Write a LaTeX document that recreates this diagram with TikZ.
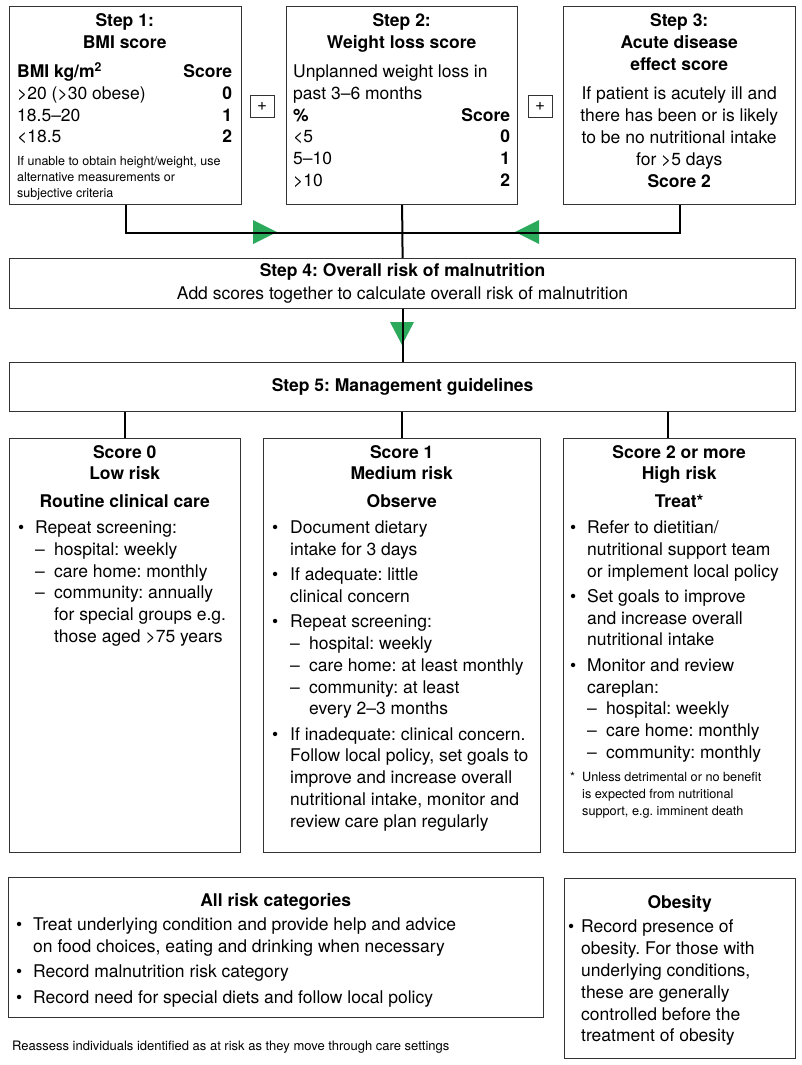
\documentclass[tikz,border=0pt]{standalone}
\usepackage{fontspec}
\setmainfont{TeX Gyre Heros}
\frenchspacing

\definecolor{vertfleche}{RGB}{42,170,90}

\newlength\bulw
\setlength\bulw{17pt}
\newcommand\boxhead[1]{\centerline{\bfseries #1}}
\newcommand\scorerow[2]{\noindent #1\hfill #2\par}
\newcommand\bitem[1]{\hangindent=\bulw\hangafter=1\noindent\makebox[\bulw][l]{\textbullet}#1\par}
\newcommand\ditem[1]{\hangindent=\dimexpr\bulw+19pt\relax\hangafter=1\noindent\hspace*{\bulw}\makebox[19pt][l]{--}#1\par}
\newcommand\bgap{\vspace{3.5pt}}

\begin{document}
\begin{tikzpicture}[x=1pt, y=1pt,
  cadre/.style={draw=black!80, line width=1.2pt, anchor=north west, inner sep=0pt},
  texte/.style={anchor=base west, inner sep=0pt, font=\fontsize{17.5}{21.8}\selectfont},
  petit/.style={font=\fontsize{13}{16}\selectfont},
  lien/.style={line width=2pt, color=black},
  signeplus/.style={draw=black!80, line width=1pt, minimum width=24pt, minimum height=22pt, inner sep=0pt, font=\fontsize{17}{18}\selectfont}]

 \useasboundingbox (0,0) rectangle (802,-1065);

 %%%%%%%%%% Etapes 1 a 3 %%%%%%%%%%
 \node[cadre, minimum width=232pt, minimum height=198pt] (s1) at (9,-6) {};
 \node[cadre, minimum width=231pt, minimum height=198pt] (s2) at (286,-6) {};
 \node[cadre, minimum width=232pt, minimum height=198pt] (s3) at (563,-6) {};
 \node[signeplus] (p1) at (262,-106) {+};
 \node[signeplus] (p2) at (540,-106) {+};

 \node[texte] (t1) at (17,-27) {\parbox[t]{215pt}{%
  \boxhead{Step 1:}
  \boxhead{BMI score}
  \vspace{7pt}
  \scorerow{\textbf{BMI kg/m\textsuperscript{2}}}{\textbf{Score}}
  \scorerow{>20 (>30 obese)}{\textbf{0}}
  \scorerow{18.5--20}{\textbf{1}}
  \scorerow{<18.5}{\textbf{2}}
  \vspace{6.5pt}
  {\fontsize{12.5}{16}\selectfont\noindent If unable to obtain height/weight, use\\ alternative measurements or\\ subjective criteria\par}}};

 \node[texte] (t2) at (293,-27) {\parbox[t]{217pt}{%
  \boxhead{Step 2:}
  \boxhead{Weight loss score}
  \vspace{7pt}
  \noindent Unplanned weight loss in\\ past 3--6 months\par
  \scorerow{\textbf{\%}}{\textbf{Score}}
  \scorerow{<5}{\textbf{0}}
  \scorerow{5--10}{\textbf{1}}
  \scorerow{>10}{\textbf{2}}}};

 \node[texte] (t3) at (571,-26.5) {\parbox[t]{216pt}{%
  \boxhead{Step 3:}
  \boxhead{Acute disease}
  \boxhead{effect score}
  \vspace{8pt}
  \centerline{If patient is acutely ill and}
  \centerline{there has been or is likely}
  \centerline{to be no nutritional intake}
  \centerline{for >5 days}
  \boxhead{Score 2}}};

 %%%%%%%%%% Etapes 4 et 5 %%%%%%%%%%
 \node[cadre, minimum width=786pt, minimum height=50pt, align=center, font=\fontsize{17.5}{23}\selectfont] (s4) at (9,-258)
  {\textbf{Step 4: Overall risk of malnutrition}\\ Add scores together to calculate overall risk of malnutrition};
 \node[cadre, minimum width=786pt, minimum height=49pt, font=\fontsize{17.5}{21.8}\selectfont\bfseries] (s5) at (9,-362)
  {Step 5: Management guidelines};

 %%%%%%%%%% Niveaux de risque %%%%%%%%%%
 \node[cadre, minimum width=231pt, minimum height=414pt] (sc0) at (9,-438) {};
 \node[cadre, minimum width=277pt, minimum height=414pt] (sc1) at (263,-438) {};
 \node[cadre, minimum width=232pt, minimum height=414pt] (sc2) at (563,-438) {};

 \node[texte] (tc0) at (18,-458) {\parbox[t]{213pt}{%
  \setlength\bulw{17pt}%
  \boxhead{Score 0}
  \boxhead{Low risk}
  \vspace{6pt}
  \boxhead{Routine clinical care}
  \vspace{4pt}
  \bitem{Repeat screening:}
  \ditem{hospital: weekly}
  \ditem{care home: monthly}
  \ditem{community: annually\\ for special groups e.g.\\ those aged >75 years}}};

 \node[texte] (tc1) at (272,-458) {\parbox[t]{259pt}{%
  \setlength\bulw{18pt}%
  \boxhead{Score 1}
  \boxhead{Medium risk}
  \vspace{6pt}
  \boxhead{Observe}
  \vspace{4pt}
  \bitem{Document dietary\\ intake for 3 days}\bgap
  \bitem{If adequate: little\\ clinical concern}\bgap
  \bitem{Repeat screening:}
  \ditem{hospital: weekly}
  \ditem{care home: at least monthly}
  \ditem{community: at least\\ every 2--3 months}\bgap
  \bitem{If inadequate: clinical concern.\\ Follow local policy, set goals to\\ improve and increase overall\\ nutritional intake, monitor and\\ review care plan regularly}}};

 \node[texte] (tc2) at (570,-458) {\parbox[t]{218pt}{%
  \setlength\bulw{17pt}%
  \boxhead{Score 2 or more}
  \boxhead{High risk}
  \vspace{6pt}
  \boxhead{Treat*}
  \vspace{4pt}
  \bitem{Refer to dietitian/\\ nutritional support team\\ or implement local policy}\bgap
  \bitem{Set goals to improve\\ and increase overall\\ nutritional intake}\bgap
  \bitem{Monitor and review\\ careplan:}
  \ditem{hospital: weekly}
  \ditem{care home: monthly}
  \ditem{community: monthly}
  \vspace{6.5pt}
  {\fontsize{12.7}{17}\selectfont\hangindent=12pt\hangafter=1\noindent\makebox[12pt][l]{*}Unless detrimental or no benefit\\ is expected from nutritional\\ support, e.g. imminent death\par}}};

 %%%%%%%%%% Toutes categories et obesite %%%%%%%%%%
 \node[cadre, minimum width=535pt, minimum height=140pt] (ar) at (8,-877) {};
 \node[cadre, minimum width=231pt, minimum height=180pt] (ob) at (564,-878) {};

 \node[texte] (tar) at (16,-906) {\parbox[t]{519pt}{%
  \setlength\bulw{17pt}%
  \boxhead{All risk categories}
  \vspace{3pt}
  \bitem{Treat underlying condition and provide help and advice\\ on food choices, eating and drinking when necessary}\bgap
  \bitem{Record malnutrition risk category}\bgap
  \bitem{Record need for special diets and follow local policy}}};

 \node[texte] (tob) at (568,-908) {\parbox[t]{223pt}{%
  \setlength\bulw{13pt}%
  \boxhead{Obesity}
  \vspace{3pt}
  \bitem{Record presence of\\ obesity. For those with\\ underlying conditions,\\ these are generally\\ controlled before the\\ treatment of obesity}}};

 \node[anchor=base west, inner sep=0pt, petit] (note) at (12,-1050)
  {Reassess individuals identified as at risk as they move through care settings};

 %%%%%%%%%% Fleches vertes %%%%%%%%%%
 \fill[vertfleche] (253,-220) -- (277,-232) -- (253,-244) -- cycle;
 \fill[vertfleche] (539,-220) -- (515,-232) -- (539,-244) -- cycle;
 \fill[vertfleche] (390,-322) -- (414,-322) -- (402,-345) -- cycle;

 %%%%%%%%%% Liaisons %%%%%%%%%%
 \coordinate (join) at ([yshift=-28pt]s2.south);
 \draw[lien] (s1.south) |- (join) -| (s3.south);
 \draw[lien] (s2.south) -- (s4.north);
 \draw[lien] (s4.south) -- (s5.north);
 \draw[lien] (s5.south -| sc0.north) -- (sc0.north);
 \draw[lien] (s5.south -| sc1.north) -- (sc1.north);
 \draw[lien] ([xshift=-12pt]s5.south -| sc2.north) -- ([xshift=-12pt]sc2.north);

\end{tikzpicture}
\end{document}
